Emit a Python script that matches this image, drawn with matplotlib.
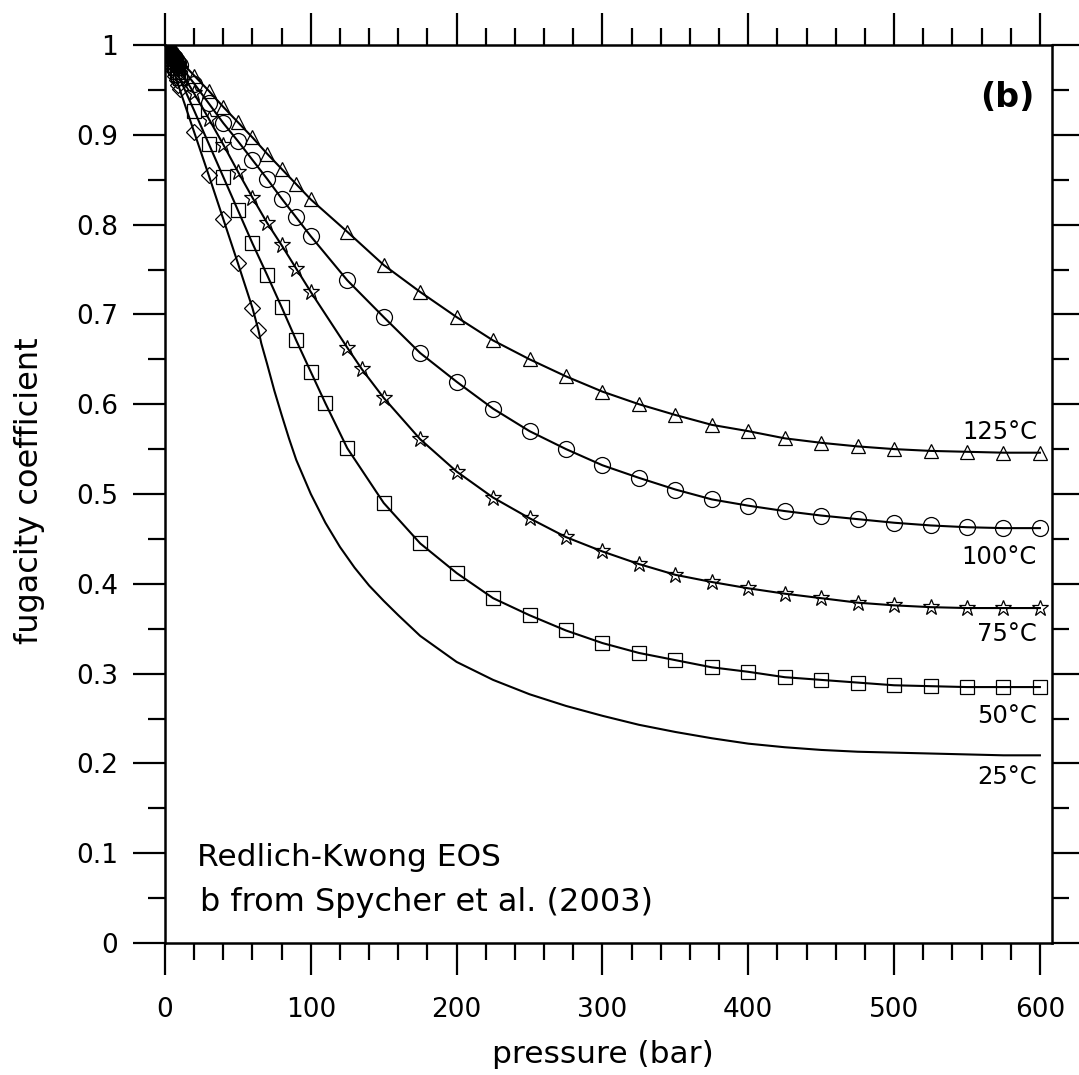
import matplotlib
matplotlib.use("Agg")
import matplotlib.pyplot as plt
from matplotlib.ticker import MultipleLocator, FuncFormatter

# pressure (bar) and fugacity coefficient
P_125 = [0, 1, 2, 3, 4, 5, 6, 7, 8, 9, 10, 20, 30, 40, 50, 60, 70, 80, 90, 100,
         125, 150, 175, 200, 225, 250, 275, 300, 325, 350, 375, 400,
         425, 450, 475, 500, 525, 550, 575, 600]
PHI_125 = [1.000, 0.998, 0.997, 0.995, 0.993, 0.992, 0.990, 0.988, 0.986, 0.985,
           0.983, 0.966, 0.949, 0.931, 0.914, 0.897, 0.879, 0.862, 0.845, 0.828,
           0.792, 0.755, 0.725, 0.697, 0.671, 0.650, 0.631, 0.614, 0.600, 0.588, 0.577, 0.570,
           0.562, 0.557, 0.553, 0.550, 0.548, 0.547, 0.546, 0.546]

P_100 = [0, 1, 2, 3, 4, 5, 6, 7, 8, 9, 10, 20, 30, 40, 50, 60, 70, 80, 90, 100,
         125, 150, 175, 200, 225, 250, 275, 300, 325, 350, 375, 400,
         425, 450, 475, 500, 525, 550, 575, 600]
PHI_100 = [1.000, 0.998, 0.996, 0.993, 0.991, 0.989, 0.987, 0.985, 0.982, 0.980,
           0.978, 0.957, 0.935, 0.913, 0.893, 0.872, 0.851, 0.829, 0.808, 0.787,
           0.738, 0.697, 0.657, 0.625, 0.595, 0.570, 0.550, 0.532, 0.518, 0.505, 0.494, 0.487,
           0.481, 0.476, 0.472, 0.468, 0.465, 0.463, 0.462, 0.462]

P_75 = [0, 1, 2, 3, 4, 5, 6, 7, 8, 9, 10, 20, 30, 40, 50, 60, 70, 80, 90, 100,
        125, 135, 150, 175, 200, 225, 250, 275, 300, 325, 350, 375, 400,
        425, 450, 475, 500, 525, 550, 575, 600]
PHI_75 = [1.000, 0.997, 0.995, 0.992, 0.989, 0.987, 0.984, 0.981, 0.978, 0.976,
          0.973, 0.946, 0.918, 0.889, 0.859, 0.830, 0.802, 0.777, 0.751, 0.725,
          0.663, 0.639, 0.607, 0.561, 0.525, 0.496, 0.473, 0.452, 0.436, 0.422, 0.410, 0.402, 0.395,
          0.389, 0.384, 0.379, 0.376, 0.374, 0.373, 0.373, 0.373]

P_50 = [0, 1, 2, 3, 4, 5, 6, 7, 8, 9, 10, 20, 30, 40, 50, 60, 70, 80, 90, 100,
        110, 125, 150, 175, 200, 225, 250, 275, 300, 325, 350, 375, 400,
        425, 450, 475, 500, 525, 550, 575, 600]
PHI_50 = [1.000, 0.996, 0.993, 0.989, 0.985, 0.982, 0.978, 0.974, 0.970, 0.967,
          0.963, 0.927, 0.890, 0.853, 0.816, 0.779, 0.744, 0.708, 0.671, 0.636,
          0.601, 0.551, 0.490, 0.445, 0.412, 0.384, 0.365, 0.348, 0.334, 0.323, 0.315, 0.307, 0.302,
          0.296, 0.293, 0.290, 0.287, 0.286, 0.285, 0.285, 0.285]

# 25 C: symbols only up to the saturation pressure, the line goes on
P_25_MARK = [0, 1, 2, 3, 4, 5, 6, 7, 8, 9, 10, 20, 30, 40, 50, 60, 64]
PHI_25_MARK = [1.000, 0.995, 0.990, 0.985, 0.980, 0.976, 0.971, 0.966, 0.961, 0.956,
               0.951, 0.903, 0.855, 0.806, 0.757, 0.707, 0.683]
P_25_LINE = [0, 10, 20, 30, 40, 50, 60, 64, 66, 70,
             75, 80, 85, 90, 100, 110, 120, 130, 140, 150, 160, 175, 200,
             225, 250, 275, 300, 325, 350, 375, 400, 425, 450, 475, 500, 525, 550, 575, 600]
PHI_25_LINE = [1.000, 0.951, 0.903, 0.855, 0.806, 0.757, 0.707, 0.683, 0.668, 0.645,
               0.615, 0.588, 0.562, 0.538, 0.500, 0.468, 0.441, 0.418, 0.398, 0.381, 0.365, 0.342, 0.313,
               0.293, 0.277, 0.264, 0.253, 0.243, 0.235, 0.228, 0.222, 0.218, 0.215,
               0.213, 0.212, 0.211, 0.210, 0.209, 0.209]

CURVE_LABELS = ["125°C", "100°C", "75°C", "50°C", "25°C"]
LABEL_Y = [0.569, 0.430, 0.344, 0.253, 0.185]

W, H = 1079, 1075
fig = plt.figure(figsize=(W / 100, H / 100), dpi=100)
ax = fig.add_axes([165 / W, (H - 943) / H, (1052 - 165) / W, (943 - 45) / H])

line_kw = dict(color="k", lw=1.5, mfc="none", mec="k", mew=0.9)
ax.plot(P_125, PHI_125, marker="^", ms=10.5, **line_kw)
ax.plot(P_100, PHI_100, marker="o", ms=11.5, **line_kw)
ax.plot(P_75, PHI_75, marker="*", ms=12, **line_kw)
ax.plot(P_50, PHI_50, marker="s", ms=10, **line_kw)
ax.plot(P_25_LINE, PHI_25_LINE, color="k", lw=1.5)
ax.plot(P_25_MARK, PHI_25_MARK, ls="none", marker="D", ms=8,
        mfc="none", mec="k", mew=0.9)

ax.set_xlim(0, 608.3)
ax.set_ylim(0, 1)

ax.xaxis.set_major_locator(MultipleLocator(100))
ax.xaxis.set_minor_locator(MultipleLocator(20))
ax.yaxis.set_major_locator(MultipleLocator(0.1))
ax.yaxis.set_minor_locator(MultipleLocator(0.05))
ax.yaxis.set_major_formatter(FuncFormatter(lambda v, _: f"{v:g}"))

for s in ax.spines.values():
    s.set_linewidth(1.8)
ax.tick_params(which="both", direction="out", top=True, right=True, width=1.6)
ax.tick_params(which="major", length=23, labelsize=19)
ax.tick_params(which="minor", length=12)
ax.tick_params(axis="x", which="major", pad=16)
ax.tick_params(axis="y", which="major", pad=11)

ax.set_xlabel("pressure (bar)", fontsize=22.5)
ax.xaxis.set_label_coords(0.494, -0.108)
ax.set_ylabel("fugacity coefficient", fontsize=23)
ax.yaxis.set_label_coords(-0.135, 0.504)

for lab, yv in zip(CURVE_LABELS, LABEL_Y):
    ax.text(598, yv, lab, ha="right", va="center", fontsize=17.5)

ax.text(596.5, 0.942, "(b)", ha="right", va="center", fontsize=24, weight="bold")
ax.text(22, 0.095, "Redlich-Kwong EOS", ha="left", va="center", fontsize=22.5)
ax.text(24, 0.045, "b from Spycher et al. (2003)", ha="left", va="center", fontsize=23)

fig.savefig("out.png", dpi=100)
